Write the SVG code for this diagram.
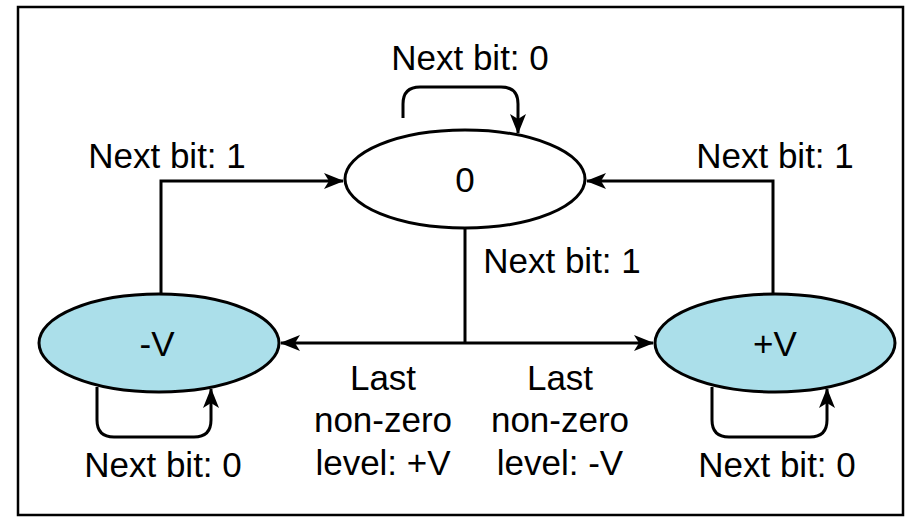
<svg xmlns="http://www.w3.org/2000/svg" width="912" height="517" viewBox="0 0 912 517">
<defs>
<style>
.node{stroke:#000;stroke-width:3}
.c{fill:none;stroke:#000;stroke-width:3}
text{font-family:"Liberation Sans",Arial,sans-serif;font-size:35px;fill:#000}
</style>
<marker id="ah" viewBox="0 0 20 16" refX="19" refY="8" markerWidth="20" markerHeight="16" markerUnits="userSpaceOnUse" orient="auto">
<path d="M0,0 L20,8 L0,16 L5,8 Z" fill="#000"/>
</marker>
</defs>
<rect x="0" y="0" width="912" height="517" fill="#fff"/>
<rect x="18" y="7" width="885" height="508" fill="none" stroke="#000" stroke-width="2.5"/>
<g id="connectors">
<path class="c" d="M161,294 V181 H343" marker-end="url(#ah)"/>
<path class="c" d="M773,294 V181 H587" marker-end="url(#ah)"/>
<path class="c" d="M465,228 V343"/>
<path class="c" d="M465,343 H281" marker-end="url(#ah)"/>
<path class="c" d="M465,343 H653" marker-end="url(#ah)"/>
<path class="c" d="M403,118 V104 Q403,87 420,87 H501 Q518,87 518,104 V133" marker-end="url(#ah)"/>
<path class="c" d="M97,387 V420 Q97,437 114,437 H194 Q211,437 211,420 V389" marker-end="url(#ah)"/>
<path class="c" d="M712,387 V420 Q712,437 729,437 H810 Q827,437 827,420 V389" marker-end="url(#ah)"/>
</g>
<g id="node-zero">
<ellipse class="node" cx="465" cy="179" rx="120" ry="49" fill="#fff"/>
<text x="465" y="192" text-anchor="middle">0</text>
</g>
<g id="node-minusV">
<ellipse class="node" cx="159" cy="343" rx="120" ry="49" fill="#abdfea"/>
<text x="157" y="356" text-anchor="middle">-V</text>
</g>
<g id="node-plusV">
<ellipse class="node" cx="775" cy="343" rx="120" ry="49" fill="#abdfea"/>
<text x="775" y="356" text-anchor="middle">+V</text>
</g>
<g id="labels">
<text x="470" y="70" text-anchor="middle">Next bit: 0</text>
<text x="167" y="168" text-anchor="middle">Next bit: 1</text>
<text x="775" y="168" text-anchor="middle">Next bit: 1</text>
<text x="562" y="273" text-anchor="middle">Next bit: 1</text>
<text x="163" y="477" text-anchor="middle">Next bit: 0</text>
<text x="777" y="477" text-anchor="middle">Next bit: 0</text>
<text x="383" y="390" text-anchor="middle">Last</text>
<text x="383" y="432" text-anchor="middle">non-zero</text>
<text x="383" y="475" text-anchor="middle">level: +V</text>
<text x="560" y="390" text-anchor="middle">Last</text>
<text x="560" y="432" text-anchor="middle">non-zero</text>
<text x="560" y="475" text-anchor="middle">level: -V</text>
</g>
</svg>
